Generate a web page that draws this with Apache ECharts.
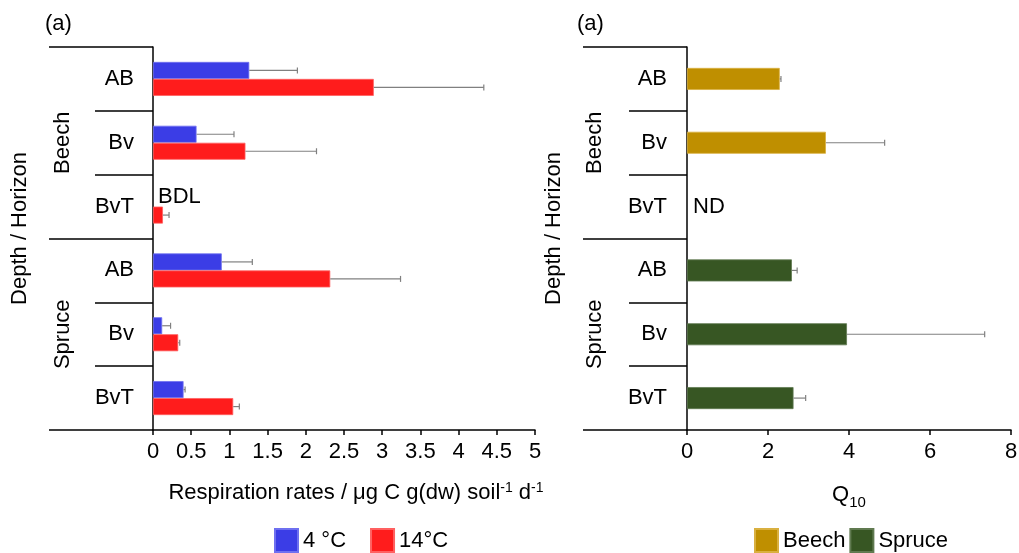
<!DOCTYPE html>
<html><head><meta charset="utf-8">
<script src="https://cdn.jsdelivr.net/npm/echarts@6/dist/echarts.min.js"></script>
<style>html,body{margin:0;padding:0;background:#fff}#c{width:1019px;height:553px}</style>
</head><body><div id="c"></div>
<script>
// ---- data ----
const horizons = ['AB', 'Bv', 'BvT', 'AB', 'Bv', 'BvT'];
const stands = ['Beech', 'Spruce'];
const resp4 = [1.26, 0.57, null, 0.90, 0.12, 0.40];
const resp4Err = [0.63, 0.49, null, 0.40, 0.11, 0.02];
const resp14 = [2.89, 1.21, 0.13, 2.32, 0.33, 1.05];
const resp14Err = [1.44, 0.93, 0.08, 0.92, 0.02, 0.08];
const respNotes = ['', '', 'BDL', '', '', ''];
const q10Beech = [2.29, 3.43, null, null, null, null];
const q10BeechErr = [0.03, 1.45, null, null, null, null];
const q10Spruce = [null, null, null, 2.59, 3.95, 2.63];
const q10SpruceErr = [null, null, null, 0.13, 3.40, 0.30];
const q10Notes = ['', '', 'ND', '', '', ''];
const respTicks = {min: 0, max: 5, interval: 0.5};
const q10Ticks = {min: 0, max: 8, interval: 2};

// ---- style ----
const FF = 'Liberation Sans';
const FS = 22;
const BLACK = '#000';
const LW = 1.5;
const txt = {fontFamily: FF, fontSize: FS, color: BLACK};

function errData(vals, errs) {
  const out = [];
  vals.forEach((v, i) => { if (v != null && errs[i] != null) out.push([v, v + errs[i], i]); });
  return out;
}
function errSeries(grid, vals, errs, offset) {
  return {
    type: 'custom', xAxisIndex: grid, yAxisIndex: grid * 2, z: 5,
    data: errData(vals, errs),
    encode: {x: [0, 1], y: 2},
    renderItem: function (params, api) {
      const p0 = api.coord([api.value(0), api.value(2)]);
      const p1 = api.coord([api.value(1), api.value(2)]);
      const y = p0[1] + offset;
      const st = {stroke: '#808080', lineWidth: 1.2};
      return {type: 'group', children: [
        {type: 'line', shape: {x1: p0[0], y1: y, x2: p1[0], y2: y}, style: st},
        {type: 'line', shape: {x1: p1[0], y1: y - 3, x2: p1[0], y2: y + 3}, style: st}
      ]};
    }
  };
}
function noteSeries(grid, notes, dx, dy) {
  const data = [];
  notes.forEach((n, i) => { if (n) data.push([0, i, n]); });
  return {
    type: 'custom', xAxisIndex: grid, yAxisIndex: grid * 2, z: 6,
    data: data, encode: {x: 0, y: 1},
    renderItem: function (params, api) {
      const p = api.coord([0, api.value(1)]);
      return {type: 'text', x: p[0] + dx, y: p[1] + dy,
        style: {text: notes[api.value(1)], fontFamily: FF, fontSize: FS, fill: BLACK,
          textAlign: 'left', textVerticalAlign: 'middle'}};
    }
  };
}
function horizonAxis(grid, margin) {
  return {
    type: 'category', gridIndex: grid, data: horizons, inverse: true, position: 'left',
    axisLine: {show: true, lineStyle: {color: BLACK, width: LW}},
    axisTick: {show: true, interval: 0, length: 58, lineStyle: {color: BLACK, width: LW}},
    axisLabel: Object.assign({interval: 0, margin: margin}, txt),
    splitLine: {show: false}
  };
}
function standAxis(grid, margin) {
  return {
    type: 'category', gridIndex: grid, data: stands, inverse: true, position: 'left',
    axisLine: {show: false},
    axisTick: {show: true, interval: 0, length: 104, lineStyle: {color: BLACK, width: LW}},
    axisLabel: Object.assign({interval: 0, margin: margin, rotate: 90, align: 'center', verticalAlign: 'middle'}, txt),
    splitLine: {show: false},
    name: 'Depth / Horizon', nameLocation: 'middle', nameGap: 122, nameRotate: 90,
    nameTextStyle: Object.assign({padding: [0, 0, 0, 20]}, txt)
  };
}
function valueAxis(grid, ticks, name, rich, pad, gap) {
  return {
    type: 'value', gridIndex: grid, min: ticks.min, max: ticks.max, interval: ticks.interval,
    axisLine: {show: true, lineStyle: {color: BLACK, width: LW}},
    axisTick: {show: true, length: 5, lineStyle: {color: BLACK, width: LW}},
    axisLabel: Object.assign({margin: 11}, txt),
    splitLine: {show: false},
    name: name, nameLocation: 'middle', nameGap: gap,
    nameTextStyle: Object.assign({rich: rich, lineHeight: 24, padding: pad}, txt)
  };
}

const chart = echarts.init(document.getElementById('c'), null, {renderer: 'canvas'});
chart.setOption({
  animation: false,
  backgroundColor: '#fff',
  title: [
    {text: '(a)', left: 40, top: 8, textStyle: Object.assign({fontWeight: 'normal'}, txt)},
    {text: '(a)', left: 572, top: 8, textStyle: Object.assign({fontWeight: 'normal'}, txt)}
  ],
  grid: [
    {left: 153, top: 47, width: 382, height: 383, outerBoundsMode: 'none', containLabel: false},
    {left: 687, top: 47, width: 324, height: 383, outerBoundsMode: 'none', containLabel: false}
  ],
  legend: [
    {data: ['4 °C', '14°C'], left: 269, top: 523, itemWidth: 23, itemHeight: 23, itemGap: 24, icon: 'rect',
      textStyle: txt, selectedMode: false},
    {data: ['Beech', 'Spruce'], left: 749, top: 523, itemWidth: 23, itemHeight: 23, itemGap: 4, icon: 'rect',
      textStyle: txt, selectedMode: false}
  ],
  xAxis: [
    valueAxis(0, respTicks, 'Respiration rates / μg C g(dw) soil{sup|-1} d{sup|-1}',
      {sup: {fontFamily: FF, fontSize: 14, color: BLACK, verticalAlign: 'top', lineHeight: 24}}, [0, 0, 0, 24], 51),
    valueAxis(1, q10Ticks, 'Q{sub|10}',
      {sub: {fontFamily: FF, fontSize: 15, color: BLACK, verticalAlign: 'bottom', lineHeight: 30}}, [0, 0, 0, 0], 50)
  ],
  yAxis: [
    horizonAxis(0, 19), standAxis(0, 90),
    horizonAxis(1, 20), standAxis(1, 92)
  ],
  series: [
    {name: '4 °C', type: 'bar', xAxisIndex: 0, yAxisIndex: 0, data: resp4, barWidth: 17, barGap: '0%',
      itemStyle: {color: '#3b3de6', borderColor: '#6e70f0', borderWidth: 0.8}},
    {name: '14°C', type: 'bar', xAxisIndex: 0, yAxisIndex: 0, data: resp14, barWidth: 17, barGap: '0%',
      itemStyle: {color: '#ff1c1c', borderColor: '#ff6060', borderWidth: 0.8}},
    errSeries(0, resp4, resp4Err, -8.5),
    errSeries(0, resp14, resp14Err, 8.5),
    noteSeries(0, respNotes, 5, -9.5),
    {name: 'Beech', type: 'bar', xAxisIndex: 1, yAxisIndex: 2, data: q10Beech, barWidth: 22, barGap: '-100%',
      itemStyle: {color: '#bf8f00', borderColor: '#d9b040', borderWidth: 0.8}},
    {name: 'Spruce', type: 'bar', xAxisIndex: 1, yAxisIndex: 2, data: q10Spruce, barWidth: 22, barGap: '-100%',
      itemStyle: {color: '#375623', borderColor: '#607a50', borderWidth: 0.8}},
    errSeries(1, q10Beech, q10BeechErr, 0),
    errSeries(1, q10Spruce, q10SpruceErr, 0),
    noteSeries(1, q10Notes, 6, 0)
  ]
});
</script></body></html>
